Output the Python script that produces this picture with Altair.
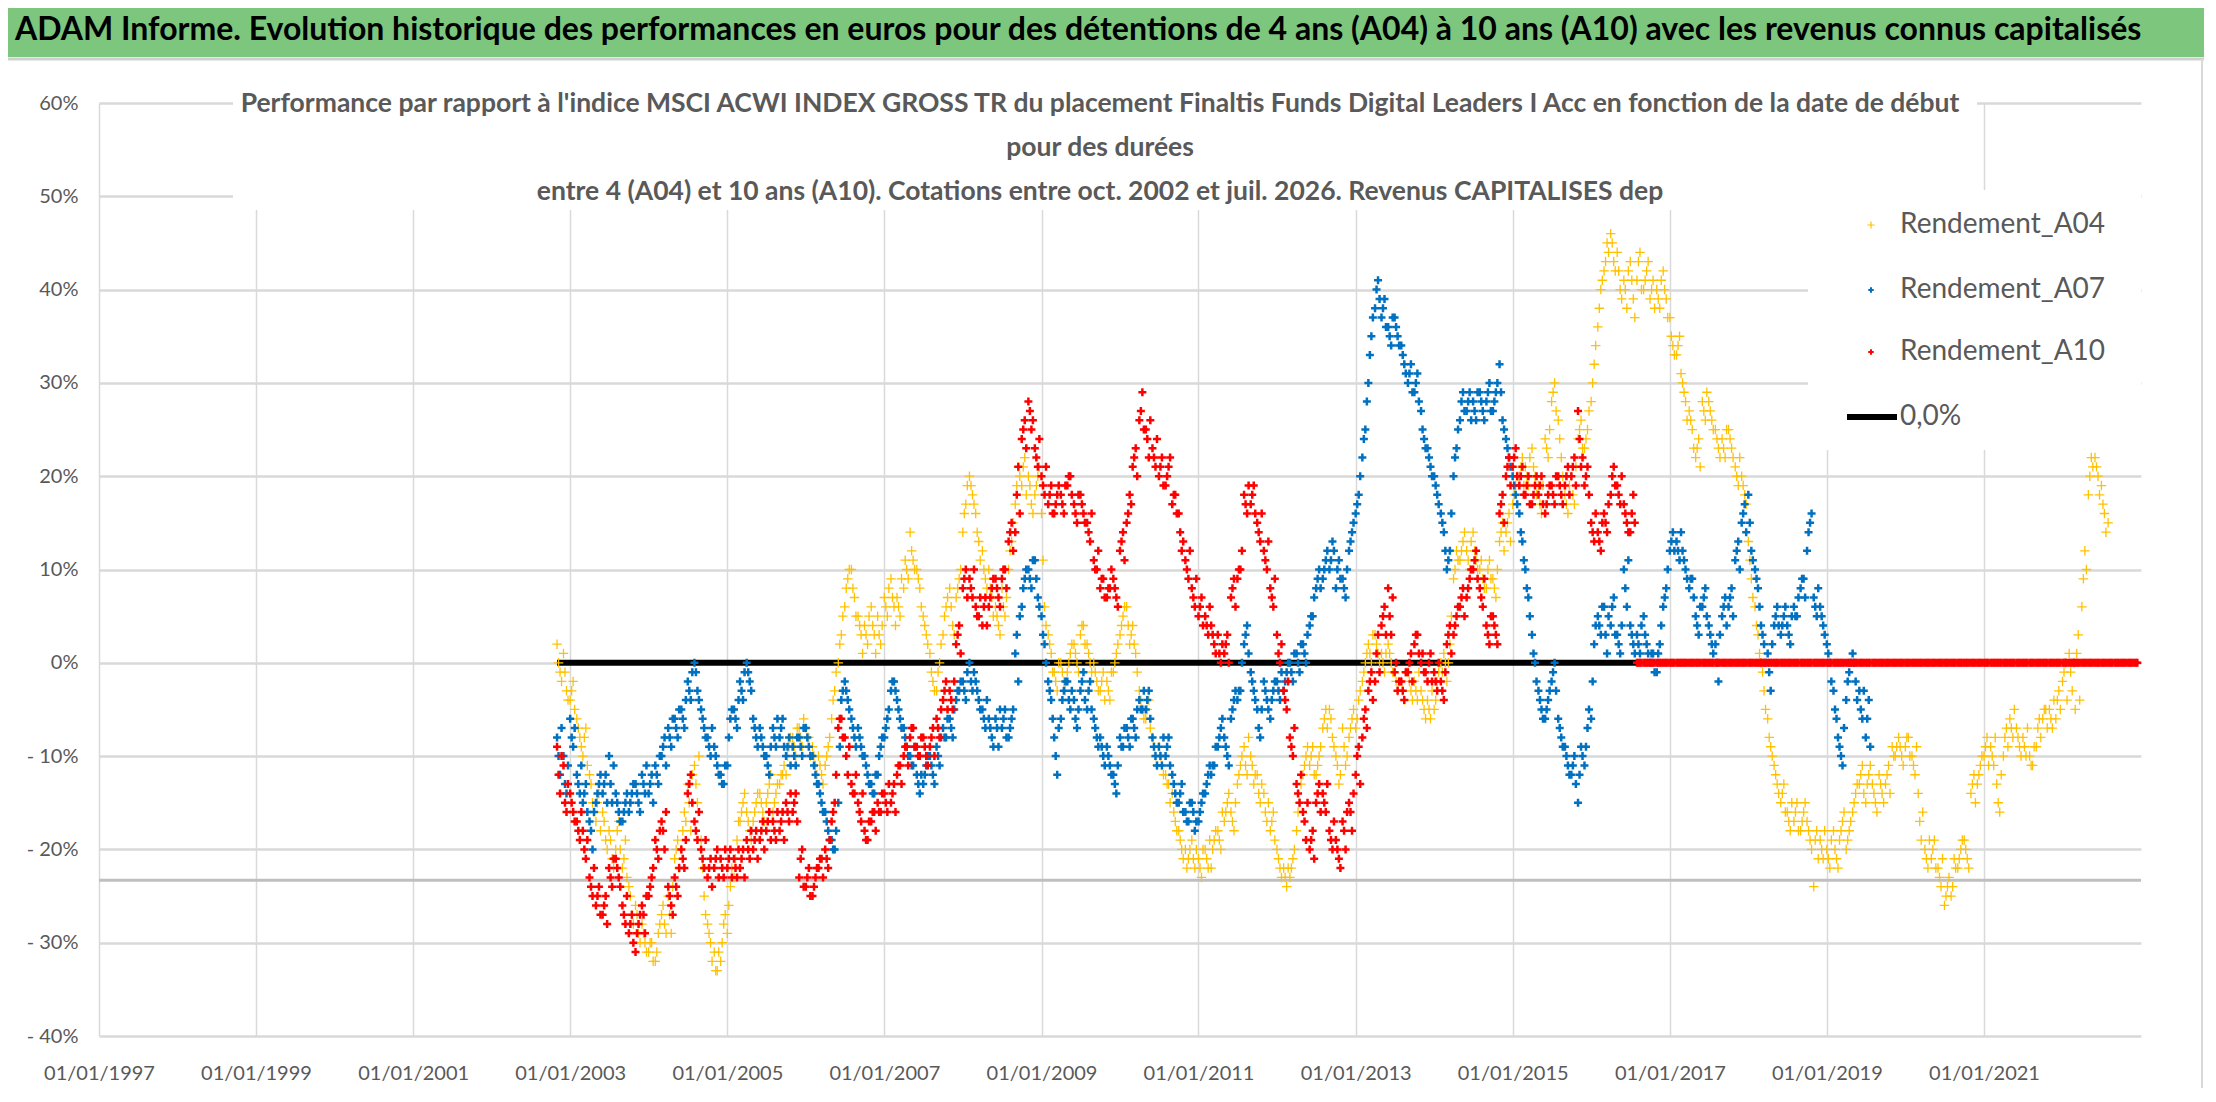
import altair as alt
import pandas as pd

# ---------------- data (percent values) ----------------
# main readings: 1st and 15th of every month; *_MID readings: 8th and 23rd of every month
A04_START = "2002-11-01"
A04 = [
    2, -1, 1, -3,
    -4, -2, -6, -8, -10, -7, -12, -15, -17, -14, -16, -19, -18, -21, -20, -17, -22, -19, -24, -27, -26, -29, -28, -30,
    -31, -30, -32, -29, -27, -28, -25, -29, -21, -19, -20, -16, -13, -18, -11, -15, -19, -25, -28, -30, -31, -33, -32, -28,
    -29, -24, -23, -19, -17, -15, -16, -18, -17, -15, -14, -16, -15, -13, -16, -14, -13, -12, -12, -9, -8, -10, -7, -9,
    -7, -8, -9, -11, -10, -12, -11, -9, -6, -3, 0, 3, 6, 9, 10, 7, 5, 3, 4, 2, 6, 3, 5, 2,
    7, 5, 9, 6, 7, 5, 8, 10, 14, 11, 10, 8, 5, 3, 1, -2, -3, 0, 3, 6, 8, 4, 7, 9,
    14, 17, 20, 18, 16, 13, 12, 9, 10, 7, 6, 4, 8, 5, 10, 13, 17, 21, 19, 22, 20, 17, 18, 20,
    16, 6, 3, 1, -1, -3, 0, -2, -1, 1, 2, 0, 3, 4, 2, 0, 0, -2, -3, -1, -2, -4, -1, 1,
    3, 5, 6, 2, 4, 1, -3, -5, -6, -4, -8, -10, -9, -11, -12, -13, -14, -17, -18, -20, -20, -21, -19, -22,
    -21, -23, -20, -22, -22, -19, -18, -20, -17, -15, -16, -18, -13, -11, -9, -12, -10, -13, -12, -15, -14, -17, -18, -16,
    -20, -22, -22, -24, -23, -21, -18, -15, -12, -10, -11, -9, -12, -10, -7, -5, -5, -8, -10, -13, -7, -11, -8, -6,
    -7, -4, -2, 0, 2, 0, 3, 1, 1, -1, 2, 0, -1, -3, -2, -4, -1, -3, -2, -4, -3, -5, -4, -6,
    -5, -2, 0, 1, -2, 2, 9, 12, 11, 13, 12, 10, 14, 11, 10, 9, 8, 11, 9, 7, 13, 15, 14, 16,
    17, 19, 20, 22, 21, 19, 23, 20, 19, 16, 24, 22, 28, 30, 26, 22, 18, 16, 20, 17, 24, 26, 23, 25,
    28, 32, 36, 40, 42, 45, 46, 43, 44, 40, 41, 38, 43, 39, 41, 44, 40, 42, 39, 41, 40, 38, 42, 39,
    37, 34, 33, 35, 30, 28, 27, 25, 22, 24, 28, 26, 28, 26, 25, 23, 24, 22, 25, 23, 21, 19, 20, 18,
    13, 9, 6, 3, 0, -3, -6, -9, -11, -13, -15, -13, -16, -18, -17, -15, -18, -16, -17, -19, -24, -18, -19, -21,
    -20, -22, -18, -21, -19, -17, -20, -18, -16, -14, -13, -11, -15, -12, -13, -15, -12, -14, -13, -11, -9, -10, -8, -10,
    -9, -8, -10, -12, -14, -19, -20, -22, -21, -19, -22, -24, -26, -24, -25, -21, -22, -20, -19, -21, -14, -12, -13, -11,
    -10, -8, -9, -11, -13, -16, -10, -7, -6, -8, -7, -9, -8, -10, -10, -11, -9, -6, -6, -5, -5, -7, -6, -3,
    -2, 0, 1, -3, -5, 3, 6, 12, 18, 22, 22, 20, 19, 16, 15,
]
A04_MID = [
    0, -2, -1, -4,
    -3, -5, -7, -9, -8, -11, -13, -16, -15, -18, -17, -20, -19, -22, -18, -20, -21, -23, -25, -28, -27, -30, -29, -31,
    -30, -32, -31, -28, -26, -29, -27, -24, -20, -22, -18, -17, -15, -12, -13, -10, -22, -27, -29, -32, -33, -31, -30, -27,
    -26, -22, -21, -17, -16, -14, -17, -19, -16, -14, -15, -17, -14, -12, -15, -13, -12, -11, -10, -8, -9, -7, -8, -6,
    -8, -10, -10, -12, -11, -13, -10, -8, -4, -1, 2, 5, 8, 10, 8, 5, 4, 1, 3, 5, 4, 1, 3, 4,
    6, 8, 7, 4, 6, 9, 11, 9, 12, 10, 9, 6, 4, 2, -1, -3, -1, 2, 5, 7, 6, 3, 8, 10,
    16, 19, 19, 17, 14, 11, 10, 8, 8, 5, 5, 3, 6, 7, 12, 15, 19, 20, 21, 18, 19, 16, 19, 21,
    11, 4, 2, -1, -2, 0, -1, -3, 0, 2, 1, -1, 4, 2, 1, -1, -1, -3, -2, -4, -3, -1, 0, 2,
    4, 6, 4, 3, 2, -1, -4, -6, -5, -7, -9, -11, -10, -12, -13, -15, -16, -18, -19, -21, -22, -20, -21, -20,
    -22, -20, -21, -19, -20, -18, -19, -16, -16, -14, -17, -15, -12, -10, -11, -8, -11, -12, -14, -13, -16, -15, -17, -19,
    -21, -23, -23, -22, -22, -20, -16, -13, -11, -9, -10, -12, -11, -9, -6, -7, -6, -9, -11, -12, -9, -10, -7, -5,
    -6, -3, -1, 1, 1, 3, 2, 0, 0, 1, 1, -1, -2, -2, -3, -1, -2, -4, -3, -1, -4, -6, -5, -3,
    -4, -1, -1, 0, 0, 5, 10, 11, 12, 14, 11, 13, 12, 10, 11, 8, 10, 9, 8, 10, 14, 12, 15, 13,
    18, 20, 21, 19, 20, 22, 21, 18, 17, 19, 23, 25, 29, 27, 24, 20, 17, 19, 18, 21, 25, 23, 24, 27,
    30, 34, 38, 41, 43, 44, 45, 42, 42, 39, 40, 42, 41, 37, 43, 40, 41, 43, 40, 38, 39, 41, 40, 37,
    35, 33, 34, 31, 29, 26, 26, 23, 23, 21, 27, 29, 27, 25, 24, 22, 23, 25, 24, 22, 20, 22, 19, 17,
    11, 7, 4, 1, -1, -5, -8, -10, -12, -14, -14, -16, -17, -15, -16, -18, -17, -15, -18, -20, -19, -21, -20, -18,
    -21, -19, -20, -22, -18, -16, -19, -17, -15, -13, -12, -14, -13, -11, -14, -16, -13, -15, -12, -14, -10, -9, -9, -11,
    -8, -10, -11, -9, -17, -16, -21, -19, -20, -22, -23, -21, -25, -23, -24, -22, -21, -19, -20, -22, -13, -15, -12, -10,
    -9, -11, -10, -8, -15, -12, -8, -9, -7, -5, -8, -10, -9, -7, -11, -9, -7, -8, -5, -7, -6, -4, -4, -5,
    -1, -4, -1, 0, 1, -4, 9, 10, 20, 21, 21, 18, 17, 14,
]

A07_START = "2002-11-01"
A07 = [
    -8, -12, -10, -14,
    -6, -9, -12, -14, -15, -13, -17, -20, -15, -13, -14, -12, -10, -15, -14, -16, -17, -15, -16, -14, -13, -15, -12, -14,
    -14, -12, -11, -13, -10, -8, -7, -9, -6, -8, -5, -7, -2, -4, 0, -3, -5, -7, -8, -10, -9, -11, -12, -13,
    -11, -6, -5, -7, -2, -4, 0, -2, -6, -8, -7, -9, -10, -12, -7, -9, -8, -6, -10, -8, -9, -11, -8, -10,
    -7, -9, -10, -12, -13, -15, -16, -18, -19, -20, -15, -4, -2, -4, -6, -8, -7, -9, -10, -12, -13, -14, -12, -9,
    -8, -6, -3, -2, -4, -6, -7, -9, -10, -11, -12, -14, -13, -11, -10, -12, -9, -11, -7, -8, -6, -8, -4, -3,
    -2, -4, 0, -3, -2, -4, -5, -7, -6, -8, -6, -9, -7, -5, -8, -6, 1, -2, 6, 9, 10, 8, 11, 7,
    5, 2, -2, -4, -8, -12, -6, -3, -2, -5, -4, -7, -3, -1, -5, -2, -6, -8, -8, -10, -9, -11, -12, -14,
    -8, -9, -7, -9, -6, -8, -4, -5, -5, -3, -8, -10, -9, -11, -10, -8, -12, -14, -15, -13, -16, -17, -15, -18,
    -17, -15, -14, -12, -12, -11, -9, -7, -8, -10, -6, -4, -4, -3, 2, 4, -1, -3, -5, -8, -2, -4, -6, -3,
    -2, -4, -3, -1, 0, -2, 1, -1, 2, 0, 4, 5, 8, 10, 9, 11, 10, 13, 8, 11, 9, 7, 12, 14,
    16, 18, 22, 25, 30, 35, 38, 41, 37, 39, 36, 34, 37, 35, 34, 32, 30, 32, 29, 31, 27, 24, 23, 21,
    20, 18, 16, 14, 10, 12, 20, 23, 26, 29, 27, 29, 28, 26, 29, 27, 28, 30, 27, 29, 32, 26, 24, 22,
    20, 18, 16, 13, 10, 7, 3, 0, -3, -5, -6, -4, -2, 0, -6, -8, -9, -11, -12, -10, -15, -9, -11, -7,
    -6, 2, 5, 3, 6, 1, 4, 7, 3, 1, 10, 6, 4, 2, 3, 1, 5, 2, 0, 1, -1, 2, 6, 8,
    12, 14, 13, 11, 12, 10, 8, 9, 5, 3, 6, 8, 4, 2, 2, -2, 5, 7, 6, 8, 11, 13, 15, 17,
    18, 12, 10, 8, 4, 2, 1, -3, 4, 6, 3, 5, 4, 2, 6, 5, 8, 9, 12, 15, 7, 5, 6, 4,
    2, 0, -3, -6, -9, -11, -4, -1, 1, -2, -3, -6, -8, -4,
]
A07_MID = [
    -10, -7, -13, -11,
    -8, -7, -13, -11, -14, -16, -18, -16, -14, -12, -13, -15, -13, -11, -15, -17, -16, -14, -15, -13, -14, -16, -13, -11,
    -13, -15, -12, -10, -9, -11, -8, -6, -7, -5, -6, -4, -3, -1, -1, -4, -6, -8, -9, -7, -10, -12, -13, -11,
    -8, -5, -6, -4, -3, -1, -1, -3, -7, -9, -8, -10, -11, -9, -8, -6, -7, -9, -9, -11, -10, -8, -9, -7,
    -8, -10, -11, -13, -14, -16, -17, -19, -20, -18, -9, -3, -3, -5, -7, -9, -8, -10, -11, -13, -14, -12, -10, -8,
    -7, -5, -2, -3, -5, -7, -8, -10, -11, -9, -13, -12, -12, -10, -11, -13, -10, -8, -8, -6, -7, -5, -3, -2,
    -3, -1, -2, -1, -3, -5, -6, -4, -7, -9, -7, -5, -6, -8, -7, -5, 3, 5, 8, 10, 9, 11, 9, 6,
    3, 0, -3, -6, -10, -7, -4, -2, -4, -3, -6, -5, -2, -4, -3, -5, -7, -9, -9, -11, -10, -12, -13, -11,
    -9, -7, -8, -6, -7, -5, -5, -3, -4, -6, -9, -11, -10, -8, -9, -11, -13, -15, -14, -16, -17, -15, -16, -17,
    -16, -14, -13, -11, -11, -9, -8, -6, -9, -11, -5, -3, -3, 0, 3, 1, -2, -4, -7, -5, -3, -5, -4, -2,
    -3, -1, -2, 0, -1, 1, 0, 2, 1, 3, 5, 7, 9, 8, 10, 12, 11, 12, 10, 9, 8, 10, 13, 15,
    17, 20, 24, 28, 33, 37, 40, 39, 38, 36, 35, 37, 36, 34, 33, 31, 31, 29, 30, 28, 25, 23, 22, 20,
    19, 17, 15, 12, 11, 16, 22, 25, 28, 27, 28, 26, 27, 29, 28, 26, 29, 27, 28, 30, 29, 25, 23, 21,
    19, 17, 14, 11, 8, 5, 1, -2, -4, -6, -5, -3, -1, -3, -7, -9, -10, -12, -11, -13, -12, -10, -9, -5,
    -2, 4, 4, 6, 3, 5, 6, 3, 2, 4, 8, 11, 3, 1, 2, 4, 3, 1, 1, -1, 1, 4, 7, 10,
    13, 12, 12, 14, 11, 9, 9, 7, 4, 6, 7, 5, 3, 1, 0, 3, 6, 4, 7, 5, 12, 10, 16, 14,
    15, 11, 9, 6, 3, 0, -1, 2, 5, 4, 4, 6, 3, 5, 5, 7, 9, 7, 14, 16, 6, 8, 5, 3,
    1, -2, -5, -8, -10, -7, -2, 0, 0, -4, -5, -3, -6, -9,
]

A10_START = "2002-11-01"
A10 = [
    -9, -14, -11, -16,
    -14, -16, -17, -19, -18, -21, -23, -25, -26, -24, -27, -25, -22, -24, -21, -23, -26, -28, -29, -27, -31, -28, -26, -29,
    -25, -23, -19, -21, -17, -20, -24, -26, -23, -25, -20, -22, -14, -12, -17, -19, -20, -22, -23, -21, -22, -20, -21, -23,
    -22, -20, -21, -23, -22, -20, -19, -21, -20, -18, -19, -17, -18, -16, -17, -19, -18, -16, -15, -17, -16, -14, -23, -20,
    -24, -22, -25, -23, -22, -21, -20, -22, -17, -15, -7, -6, -8, -12, -13, -14, -15, -17, -18, -19, -17, -16, -15, -16,
    -14, -16, -15, -13, -12, -11, -10, -9, -8, -7, -9, -10, -8, -10, -9, -7, -6, -8, -4, -2, -3, -5, 2, 4,
    8, 10, 9, 7, 6, 5, 4, 7, 6, 8, 9, 7, 9, 10, 13, 15, 14, 21, 24, 26, 28, 25, 23, 21,
    20, 18, 17, 19, 16, 18, 18, 16, 19, 20, 17, 15, 18, 16, 15, 13, 11, 10, 8, 9, 7, 8, 9, 7,
    12, 14, 15, 18, 21, 23, 26, 29, 25, 22, 23, 21, 20, 22, 19, 21, 17, 18, 16, 12, 11, 9, 8, 6,
    5, 7, 5, 3, 4, 2, 3, 0, 1, 3, 7, 9, 9, 10, 18, 16, 17, 19, 15, 13, 12, 10, 8, 6,
    3, 0, -3, -5, -8, -10, -13, -15, -16, -19, -20, -18, -15, -13, -14, -16, -18, -20, -19, -21, -17, -20, -15, -18,
    -12, -9, -8, -5, -3, -1, -2, 3, 4, 6, 8, 3, -1, -3, -2, -4, -1, 1, 2, 3, 0, -1, -2, 1,
    -1, -3, -2, -4, 2, 4, 3, 5, 6, 8, 7, 9, 10, 12, 8, 6, 4, 2, 5, 3, 16, 18, 20, 22,
    21, 23, 19, 21, 18, 20, 17, 19, 18, 20, 16, 18, 19, 17, 20, 18, 19, 21, 20, 22, 27, 21, 19, 21,
    15, 13, 14, 12, 16, 14, 18, 21, 19, 17, 17, 15, 14, 18,
    # from Aug 2016 on, the series is shown at 0 %
    0, 0, 0, 0, 0, 0, 0, 0, 0, 0,
    0, 0, 0, 0, 0, 0, 0, 0, 0, 0, 0, 0, 0, 0, 0, 0, 0, 0, 0, 0, 0, 0, 0, 0,
    0, 0, 0, 0, 0, 0, 0, 0, 0, 0, 0, 0, 0, 0, 0, 0, 0, 0, 0, 0, 0, 0, 0, 0,
    0, 0, 0, 0, 0, 0, 0, 0, 0, 0, 0, 0, 0, 0, 0, 0, 0, 0, 0, 0, 0, 0, 0, 0,
    0, 0, 0, 0, 0, 0, 0, 0, 0, 0, 0, 0, 0, 0, 0, 0, 0, 0, 0, 0, 0, 0, 0, 0,
    0, 0, 0, 0, 0, 0, 0, 0, 0, 0, 0, 0, 0, 0, 0, 0, 0, 0, 0, 0, 0, 0, 0, 0,
    0, 0, 0, 0, 0, 0, 0, 0, 0, 0, 0, 0, 0, 0, 0, 0, 0, 0, 0, 0, 0, 0, 0, 0,
]
A10_MID = [
    -12, -10, -15, -13,
    -15, -17, -18, -16, -20, -19, -24, -22, -25, -27, -26, -28, -23, -21, -22, -24, -27, -25, -28, -30, -29, -27, -27, -25,
    -24, -22, -20, -18, -18, -16, -25, -27, -24, -22, -21, -19, -13, -15, -18, -16, -21, -19, -22, -24, -21, -23, -22, -20,
    -21, -23, -22, -20, -21, -23, -20, -18, -19, -21, -18, -20, -17, -19, -18, -16, -17, -19, -16, -14, -15, -17, -21, -24,
    -23, -25, -24, -22, -21, -23, -21, -19, -16, -12, -6, -8, -10, -9, -14, -12, -16, -14, -19, -17, -16, -18, -16, -14,
    -15, -13, -14, -16, -11, -13, -9, -11, -7, -9, -10, -8, -9, -11, -8, -10, -7, -5, -3, -5, -4, -2, 3, 1,
    9, 7, 8, 10, 5, 7, 6, 4, 7, 9, 8, 6, 10, 8, 14, 12, 18, 16, 25, 23, 27, 26, 22, 24,
    19, 21, 18, 16, 17, 19, 17, 19, 20, 18, 16, 18, 17, 15, 14, 16, 10, 12, 9, 7, 8, 10, 8, 6,
    13, 11, 16, 17, 22, 20, 27, 25, 24, 26, 22, 24, 21, 19, 20, 22, 18, 16, 14, 13, 10, 12, 7, 9,
    6, 4, 4, 6, 3, 1, 1, 2, 2, 0, 8, 6, 10, 12, 17, 19, 18, 16, 14, 16, 11, 13, 7, 9,
    1, 2, -4, -2, -9, -7, -14, -12, -17, -15, -19, -21, -14, -16, -15, -13, -19, -17, -20, -22, -18, -16, -16, -14,
    -10, -13, -6, -7, -2, -4, 1, -1, 5, 3, 5, 7, 0, -2, -3, -1, 0, -2, 3, 1, 1, -1, 0, -2,
    -2, 0, -3, -1, 3, 1, 4, 6, 7, 5, 8, 10, 11, 9, 7, 9, 3, 5, 4, 2, 17, 15, 21, 19,
    22, 20, 20, 18, 19, 17, 18, 20, 19, 17, 17, 19, 18, 20, 19, 17, 20, 18, 21, 19, 24, 22, 20, 18,
    14, 16, 13, 15, 15, 17, 20, 19, 18, 20, 16, 14, 16, 15,
    0, 0, 0, 0, 0, 0, 0, 0, 0, 0,
    0, 0, 0, 0, 0, 0, 0, 0, 0, 0, 0, 0, 0, 0, 0, 0, 0, 0, 0, 0, 0, 0, 0, 0,
    0, 0, 0, 0, 0, 0, 0, 0, 0, 0, 0, 0, 0, 0, 0, 0, 0, 0, 0, 0, 0, 0, 0, 0,
    0, 0, 0, 0, 0, 0, 0, 0, 0, 0, 0, 0, 0, 0, 0, 0, 0, 0, 0, 0, 0, 0, 0, 0,
    0, 0, 0, 0, 0, 0, 0, 0, 0, 0, 0, 0, 0, 0, 0, 0, 0, 0, 0, 0, 0, 0, 0, 0,
    0, 0, 0, 0, 0, 0, 0, 0, 0, 0, 0, 0, 0, 0, 0, 0, 0, 0, 0, 0, 0, 0, 0, 0,
    0, 0, 0, 0, 0, 0, 0, 0, 0, 0, 0, 0, 0, 0, 0, 0, 0, 0, 0, 0, 0, 0, 0,
]

ZERO_LINE_DATES = ["2002-11-01", "2016-08-01"]
ZERO_LINE_VALUES = [0, 0]
GREY_LINE_VALUE = [-23.3]

X_TICK_YEARS = [1997, 1999, 2001, 2003, 2005, 2007, 2009, 2011, 2013, 2015, 2017, 2019, 2021]
X_DOMAIN = ["1997-01-01", "2023-01-01"]
Y_TICKS = [-40, -30, -20, -10, 0, 10, 20, 30, 40, 50, 60]

SERIES_NAMES = ["Rendement_A04", "Rendement_A07", "Rendement_A10"]
ZERO_NAME = "0,0%"
TITLE = ("ADAM Informe. Evolution historique des performances en euros pour des détentions "
         "de 4 ans (A04) à 10 ans (A10) avec les revenus connus capitalisés")
SUB1 = ("Performance par rapport à l'indice MSCI ACWI INDEX GROSS TR  du placement Finaltis Funds "
        "Digital Leaders I Acc en fonction de la date de début")
SUB2 = "pour des durées"
SUB3 = "entre 4 (A04) et 10 ans (A10). Cotations entre oct. 2002 et juil. 2026. Revenus CAPITALISES dep"

YELLOW, BLUE, RED = "#FFC000", "#0070C0", "#FF0000"
GREY_TXT = "#595959"
FONT = "Lato"


def ms(s):
    return pd.Timestamp(s).value // 10**6


def series_df(start, vals, shift_days=0):
    d = pd.date_range(start, periods=len(vals), freq="SMS") + pd.Timedelta(days=shift_days)
    return pd.DataFrame({"t": [ms(x) for x in d], "v": vals})


df04 = pd.concat([series_df(A04_START, A04), series_df(A04_START, A04_MID, 7)], ignore_index=True)
df07 = pd.concat([series_df(A07_START, A07), series_df(A07_START, A07_MID, 7)], ignore_index=True)
df10 = pd.concat([series_df(A10_START, A10), series_df(A10_START, A10_MID, 7)], ignore_index=True)
df_zero = pd.DataFrame({"t": [ms(s) for s in ZERO_LINE_DATES], "v": ZERO_LINE_VALUES})
df_grey = pd.DataFrame({"v": GREY_LINE_VALUE})
one = pd.DataFrame({"a": [0]})

W, H = 2042, 933
CROSS = "M-1,0L1,0M0,-1L0,1"

X = alt.X(
    "t:T",
    scale=alt.Scale(domain=[ms(X_DOMAIN[0]), ms(X_DOMAIN[1])], nice=False),
    axis=alt.Axis(
        values=[ms(f"{y}-01-01") for y in X_TICK_YEARS],
        labelExpr="utcFormat(datum.value, '%d/%m/%Y')",
        grid=True, gridColor="#D9D9D9", gridWidth=1.5,
        labelPadding=27, tickSize=0, labelFlush=False, labelOverlap=False, labelBound=False,
    ),
    title=None,
)
Y = alt.Y(
    "v:Q",
    scale=alt.Scale(domain=[-40, 60], nice=False, zero=False),
    axis=alt.Axis(
        values=Y_TICKS,
        labelExpr="datum.value < 0 ? '- ' + (-datum.value) + '%' : datum.value + '%'",
        grid=True, gridColor="#D9D9D9", gridWidth=2.5,
        labelPadding=21, tickSize=0,
    ),
    title=None,
)

grey_rule = alt.Chart(df_grey).mark_rule(color="#BFBFBF", strokeWidth=3).encode(y=Y)

title_box = alt.Chart(one).mark_rect(color="white").encode(
    x=alt.value(134), x2=alt.value(1878), y=alt.value(-15), y2=alt.value(107))
legend_box = alt.Chart(one).mark_rect(color="white").encode(
    x=alt.value(1709), x2=alt.value(W), y=alt.value(87), y2=alt.value(347))

zero_line = alt.Chart(df_zero).mark_line(color="black", strokeWidth=6).encode(x=X, y=Y)


def pts(df, color, size, sw):
    return alt.Chart(df).mark_point(shape=CROSS, filled=False, color=color, size=size,
                                    strokeWidth=sw, opacity=1).encode(x=X, y=Y)


p04 = pts(df04, YELLOW, 90, 1.3)
p07 = pts(df07, BLUE, 64, 2.5)
p10 = pts(df10, RED, 64, 2.5)

# legend
leg = []
for name, col, yy, sz, sw in [(SERIES_NAMES[0], YELLOW, 122, 50, 1.2),
                               (SERIES_NAMES[1], BLUE, 187, 30, 2),
                               (SERIES_NAMES[2], RED, 249, 30, 2)]:
    leg.append(alt.Chart(one).mark_point(shape=CROSS, filled=False, color=col, size=sz, strokeWidth=sw,
                                         opacity=1).encode(x=alt.value(1772), y=alt.value(yy)))
    leg.append(alt.Chart(one).mark_text(align="left", baseline="middle", font=FONT, fontSize=28,
                                        color=GREY_TXT).encode(
        x=alt.value(1801), y=alt.value(yy), text=alt.value(name)))
leg.append(alt.Chart(one).mark_rule(color="black", strokeWidth=6).encode(
    x=alt.value(1748), x2=alt.value(1798), y=alt.value(314)))
leg.append(alt.Chart(one).mark_text(align="left", baseline="middle", font=FONT, fontSize=28,
                                    color=GREY_TXT).encode(
    x=alt.value(1801), y=alt.value(314), text=alt.value(ZERO_NAME)))

# subtitle (chart title inside the plot)
subs = []
for txt, yy in [(SUB1, 9), (SUB2, 53), (SUB3, 97)]:
    subs.append(alt.Chart(one).mark_text(align="center", baseline="alphabetic", font=FONT, fontSize=26.5,
                                         fontWeight="bold", color=GREY_TXT).encode(
        x=alt.value(1001), y=alt.value(yy), text=alt.value(txt)))

# green banner
banner = alt.Chart(one).mark_rect(color="#7CC67E").encode(
    x=alt.value(-91), x2=alt.value(2105), y=alt.value(-95), y2=alt.value(-46))
banner_line = alt.Chart(one).mark_rule(color="#D0D0D0", strokeWidth=3).encode(
    x=alt.value(-91), x2=alt.value(2105), y=alt.value(-44))
right_frame = alt.Chart(one).mark_rule(color="#D9D9D9", strokeWidth=2).encode(
    x=alt.value(2103), y=alt.value(-44), y2=alt.value(985))
banner_text = alt.Chart(one).mark_text(align="left", baseline="alphabetic", font=FONT, fontSize=32,
                                       fontWeight="bold", color="black").encode(
    x=alt.value(-84), y=alt.value(-63), text=alt.value(TITLE))

chart = alt.layer(
    grey_rule, title_box, legend_box, zero_line, p04, p07, p10,
    *leg, *subs, banner, banner_line, right_frame, banner_text,
).properties(
    width=W, height=H,
    autosize=alt.AutoSizeParams(type="none"),
    padding={"left": 91, "top": 95, "right": 63, "bottom": 52},
    background="white",
).configure_axis(
    labelFont=FONT, labelColor=GREY_TXT, labelFontSize=20, domain=False, ticks=False,
).configure_view(strokeWidth=0)

chart.save("out.html", embed_options={"renderer": "svg", "actions": False})
